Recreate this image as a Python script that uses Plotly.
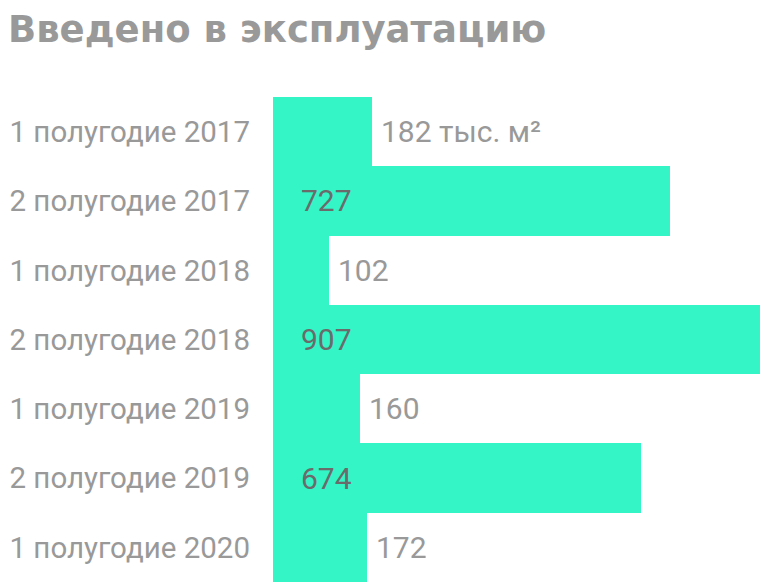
import plotly.graph_objects as go

categories = ["1 полугодие 2017", "2 полугодие 2017", "1 полугодие 2018", "2 полугодие 2018",
              "1 полугодие 2019", "2 полугодие 2019", "1 полугодие 2020"]
values = [182, 727, 102, 907, 160, 674, 172]
value_labels = ["182 тыс. м²", "727", "102", "907", "160", "674", "172"]
inside = [False, True, False, True, False, True, False]

BAR = "#33F5C6"
GRAY = "#999999"
DARK = "#6b6b6b"
FONT = "Roboto"

fig = go.Figure(go.Bar(
    x=values, y=categories, orientation="h",
    marker=dict(color=BAR, line=dict(width=0)),
    hoverinfo="skip",
))

annotations = []
for cat, v, lab, ins in zip(categories, values, value_labels, inside):
    if ins:
        annotations.append(dict(x=0, y=cat, xref="x", yref="y", text=lab, showarrow=False,
                                xanchor="left", xshift=26,
                                font=dict(family=FONT, size=30, color=DARK)))
    else:
        annotations.append(dict(x=v, y=cat, xref="x", yref="y", text=lab, showarrow=False,
                                xanchor="left", xshift=7,
                                font=dict(family=FONT, size=30, color=GRAY)))

fig.update_layout(
    width=760, height=575,
    autosize=False,
    margin=dict(l=265, r=0, t=89, b=1),
    paper_bgcolor="white", plot_bgcolor="white",
    bargap=0,
    showlegend=False,
    title=dict(text="<b>Введено в эксплуатацию</b>", x=0, xref="container", xanchor="left",
               y=1 - 21 / 575, yref="container", yanchor="middle",
               font=dict(family="DejaVu Sans", size=37, color=GRAY), pad=dict(l=0)),
    xaxis=dict(range=[0, 907], visible=False, fixedrange=True),
    yaxis=dict(autorange="reversed", showgrid=False, zeroline=False, showline=False,
               ticks="", ticklabelstandoff=22, automargin=False,
               tickfont=dict(family=FONT, size=29.5, color=GRAY)),
    annotations=annotations,
)

fig.write_html("out.html", config={"responsive": False})
